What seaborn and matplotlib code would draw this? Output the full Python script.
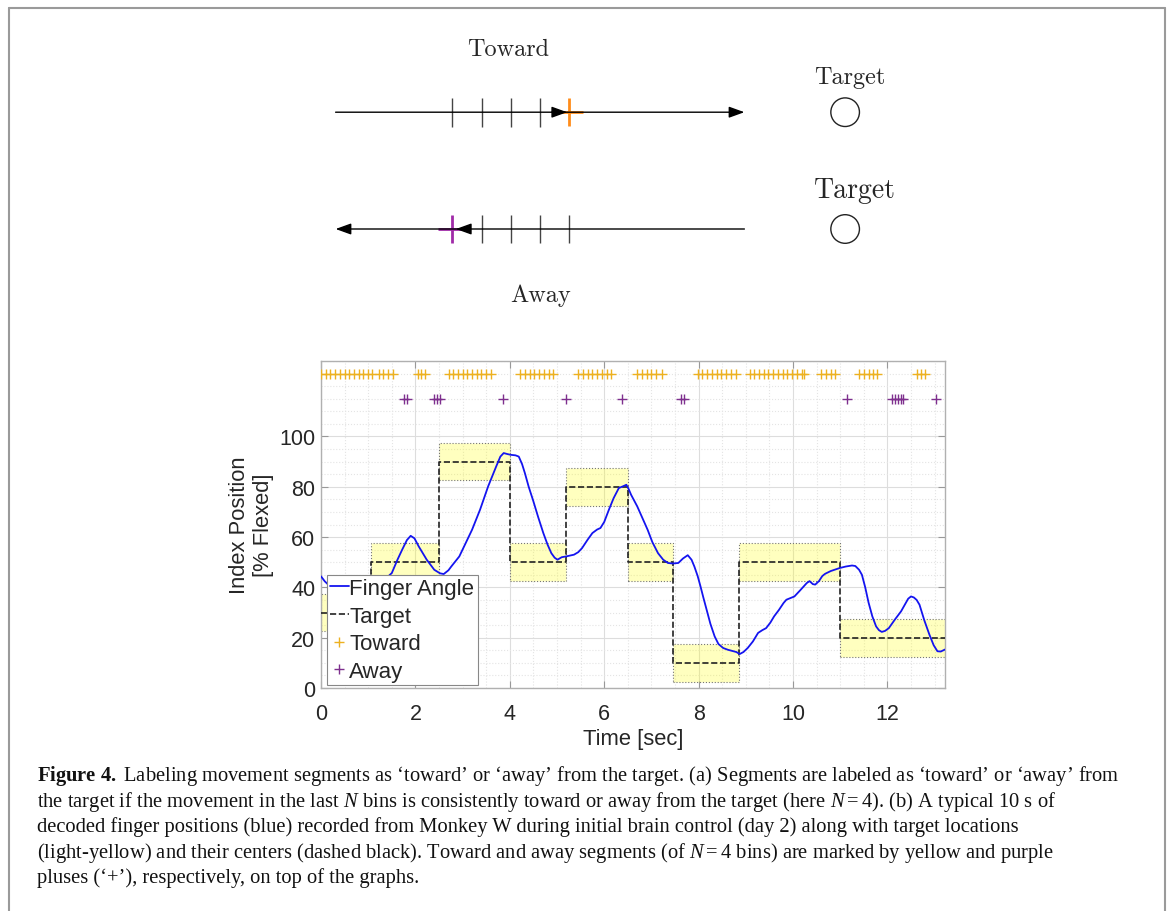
import matplotlib
matplotlib.use('Agg')
import matplotlib.pyplot as plt
from matplotlib.patches import Rectangle, Circle
from matplotlib.lines import Line2D
from matplotlib.ticker import MultipleLocator
import seaborn as sns

# (b) decoded finger angle, time [sec] vs index position [% flexed]
finger_t = [0.00, 0.08, 0.30, 0.60, 0.90, 1.20, 1.50, 1.62, 1.72, 1.82, 1.90, 1.98,
            2.07, 2.24, 2.40, 2.52, 2.60, 2.70, 2.76, 2.93, 3.05, 3.20, 3.37, 3.54,
            3.71, 3.80, 3.87, 3.95, 4.02, 4.12, 4.19, 4.26, 4.32, 4.40, 4.49, 4.60,
            4.71, 4.80, 4.88, 4.95, 5.01, 5.10, 5.19, 5.36, 5.45, 5.53, 5.65, 5.75,
            5.85, 5.92, 6.00, 6.10, 6.20, 6.31, 6.40, 6.47, 6.52, 6.57, 6.70, 6.80,
            6.92, 7.02, 7.14, 7.25, 7.35, 7.45, 7.57, 7.67, 7.77, 7.85, 7.91, 7.98,
            8.04, 8.10, 8.17, 8.25, 8.34, 8.42, 8.52, 8.62, 8.74, 8.80, 8.87, 8.95,
            9.04, 9.15, 9.26, 9.35, 9.43, 9.52, 9.60, 9.70, 9.80, 9.86, 9.95, 10.03,
            10.15, 10.29, 10.35, 10.42, 10.47, 10.55, 10.62, 10.68, 10.80, 10.99, 11.12, 11.25,
            11.32, 11.40, 11.46, 11.53, 11.60, 11.68, 11.76, 11.82, 11.88, 11.95, 12.03, 12.15,
            12.29, 12.38, 12.44, 12.50, 12.56, 12.62, 12.68, 12.78, 12.89, 12.98, 13.06, 13.13,
            13.22]
finger_v = [44.4, 42.4, 38.5, 36.5, 37.5, 40.5, 45.7, 51.0, 55.0, 58.8, 60.5, 59.5,
            56.3, 51.0, 47.0, 45.6, 45.3, 46.8, 48.3, 52.3, 57.0, 62.9, 70.9, 80.1,
            88.0, 92.0, 93.4, 93.0, 92.7, 92.5, 92.0, 89.0, 85.4, 80.0, 74.8, 68.0,
            61.6, 57.0, 53.6, 51.8, 51.0, 52.0, 52.3, 53.0, 54.0, 55.6, 59.0, 61.6,
            63.0, 63.6, 66.0, 70.9, 75.5, 79.5, 80.2, 80.8, 79.0, 76.8, 72.2, 68.0,
            62.9, 58.0, 53.6, 51.0, 49.7, 49.5, 49.7, 51.5, 52.8, 51.0, 48.3, 44.5,
            40.4, 36.0, 31.1, 25.5, 20.5, 17.5, 15.9, 15.2, 14.6, 14.3, 13.5, 14.3,
            15.9, 18.5, 21.9, 23.0, 23.8, 26.0, 28.5, 31.0, 33.8, 35.1, 35.8, 36.4,
            38.8, 41.7, 42.5, 41.3, 41.1, 42.5, 44.5, 45.4, 46.5, 47.7, 48.3, 48.7,
            48.5, 47.0, 45.0, 40.0, 34.0, 28.5, 24.5, 23.0, 22.3, 22.7, 23.8, 27.0,
            30.5, 33.5, 35.5, 36.4, 36.0, 35.0, 33.1, 27.0, 21.2, 17.0, 14.6, 14.5,
            15.3]

# target windows
target_start = [0.0, 1.05, 2.5, 4.0, 5.2, 6.5, 7.45, 8.85, 11.0]
target_end = [1.05, 2.5, 4.0, 5.2, 6.5, 7.45, 8.85, 11.0, 13.4]
target_center = [30, 50, 90, 50, 80, 50, 10, 50, 20]
target_halfwidth = 7.5

# bins labelled toward / away
toward_t = [0.00, 0.10, 0.20, 0.30, 0.40, 0.50, 0.60, 0.70, 0.80, 0.90, 1.00, 1.07,
            1.22, 1.32, 1.42, 1.52,
            2.05, 2.12, 2.20,
            2.72, 2.80, 2.90, 3.00, 3.10, 3.20, 3.30, 3.40, 3.50, 3.60,
            4.22, 4.32, 4.42, 4.52, 4.62, 4.72, 4.82, 4.92,
            5.45, 5.55, 5.65, 5.75, 5.85, 5.95, 6.05, 6.15,
            6.70, 6.80, 6.90, 7.00, 7.10, 7.22,
            7.98, 8.08, 8.18, 8.28, 8.38, 8.48, 8.58, 8.68, 8.80,
            9.08, 9.18, 9.28, 9.38, 9.48, 9.58, 9.68, 9.78, 9.88, 9.98, 10.08, 10.18, 10.24,
            10.60, 10.70, 10.80, 10.90,
            11.40, 11.50, 11.60, 11.70, 11.78,
            12.63, 12.72, 12.79]
away_t = [1.75, 1.82, 2.40, 2.46, 2.52, 3.86, 5.20, 6.38, 7.62, 7.70, 11.15,
          12.10, 12.16, 12.22, 12.28, 12.34, 13.02]
toward_row = 125
away_row = 115

# (a) schematic: bin positions along the movement line
line_len = 14
toward_bins = [4, 5, 6, 7]
toward_mark = 8
away_bins = [5, 6, 7, 8]
away_mark = 4
target_pos = 17.45

caption = [
    r"$\mathbf{Figure\ 4.}$ Labeling movement segments as ‘toward’ or ‘away’ from the target. (a) Segments are labeled as ‘toward’ or ‘away’ from",
    r"the target if the movement in the last $N$ bins is consistently toward or away from the target (here $N=4$). (b) A typical 10 s of",
    r"decoded finger positions (blue) recorded from Monkey W during initial brain control (day 2) along with target locations",
    r"(light-yellow) and their centers (dashed black). Toward and away segments (of $N=4$ bins) are marked by yellow and purple",
    r"pluses (‘+’), respectively, on top of the graphs.",
]

sns.set_style('whitegrid')
plt.rcParams['font.family'] = ['Liberation Sans', 'DejaVu Sans']
plt.rcParams['mathtext.fontset'] = 'custom'
plt.rcParams['mathtext.rm'] = 'Liberation Serif'
plt.rcParams['mathtext.it'] = 'Liberation Serif:italic'
plt.rcParams['mathtext.bf'] = 'Liberation Serif:bold'

W, H = 1171, 912
fig = plt.figure(figsize=(W / 100, H / 100), dpi=100)

# ---- (a) schematic
axd = fig.add_axes([306.4 / W, 1 - 332.2 / H, 759.2 / W, 321.2 / H])
axd.set_xlim(-1, 25)
axd.set_ylim(-3.5, 7.5)
axd.axis('off')

arr = dict(arrowstyle='-|>,head_length=0.47,head_width=0.17', color='black',
           lw=1.0, shrinkA=0, shrinkB=0, mutation_scale=20)
axd.annotate('', xy=(line_len, 4), xytext=(0, 4), arrowprops=arr)
axd.annotate('', xy=(toward_mark - 0.07, 4), xytext=(toward_mark - 0.6, 4), arrowprops=arr)
axd.annotate('', xy=(0, 0), xytext=(line_len, 0), arrowprops=arr)
axd.annotate('', xy=(away_mark + 0.12, 0), xytext=(away_mark + 0.6, 0), arrowprops=arr)
axd.vlines(toward_bins, 4 - 0.49, 4 + 0.49, color='#444444', lw=1.0)
axd.vlines(away_bins, -0.49, 0.49, color='#444444', lw=1.0)
axd.plot(toward_mark, 4, marker='+', ms=20, mew=2, color='#FF8C1A')
axd.plot(away_mark, 0, marker='+', ms=20, mew=2, color='#A02AA8')
axd.add_patch(Circle((target_pos, 4), 0.49, fill=False, lw=1.0, ec='#222222'))
axd.add_patch(Circle((target_pos, 0), 0.49, fill=False, lw=1.0, ec='#222222'))
axd.text(5.9, 6.17, 'Toward', family='cmr10', fontsize=17.5, ha='center', va='center')
axd.text(17.6, 5.22, 'Target', family='cmr10', fontsize=17.5, ha='center', va='center')
axd.text(17.8, 1.35, 'Target', family='cmr10', fontsize=20, ha='center', va='center')
axd.text(7.03, -2.25, 'Away', family='cmr10', fontsize=17.5, ha='center', va='center')

# ---- (b) finger trace
ax = fig.add_axes([321 / W, 1 - 689 / H, 624 / W, 327 / H])
for s, e, c in zip(target_start, target_end, target_center):
    ax.add_patch(Rectangle((s, c - target_halfwidth), e - s, 2 * target_halfwidth,
                           facecolor=(1, 1, 0, 0.25), edgecolor='#777777',
                           lw=0.8, ls=':', zorder=1))

step_x = target_start + [target_end[-1]]
step_y = target_center + [target_center[-1]]
sns.lineplot(x=step_x, y=step_y, drawstyle='steps-post', color='#222222',
             lw=1.2, ls='--', ax=ax, zorder=3)
sns.lineplot(x=finger_t, y=finger_v, color='#1414F0', lw=1.3, ax=ax, zorder=4)
ax.plot(toward_t, [toward_row] * len(toward_t), ls='none', marker='+', ms=7,
        mew=1.0, color='#EDB120', zorder=5)
ax.plot(away_t, [away_row] * len(away_t), ls='none', marker='+', ms=7,
        mew=1.0, color='#7E2F8E', zorder=5)

ax.set_xlim(0, 13.22)
ax.set_ylim(0, 130)
ax.set_xticks(range(0, 13, 2))
ax.set_yticks(range(0, 101, 20))
ax.xaxis.set_minor_locator(MultipleLocator(0.5))
ax.yaxis.set_minor_locator(MultipleLocator(5))
ax.set_axisbelow(True)
ax.grid(True, which='major', color='#dddddd', lw=0.8, ls='-')
ax.grid(True, which='minor', color='#e4e4e4', lw=0.8, ls=':')
ax.tick_params(which='major', direction='in', length=5, width=0.8, color='#999999',
               bottom=True, left=True, top=True, right=True,
               labelsize=15.5, labelcolor='#262626')
ax.tick_params(axis='x', which='major', pad=11)
ax.tick_params(axis='y', which='major', pad=4)
ax.tick_params(which='minor', length=0)
for sp in ax.spines.values():
    sp.set_color('#b0b0b0')
    sp.set_linewidth(1.0)
ax.set_xlabel('Time [sec]', fontsize=15.8, color='#262626', labelpad=3)
ax.set_ylabel('Index Position\n[% Flexed]', fontsize=15.8, color='#262626', labelpad=4)

handles = [Line2D([], [], color='#1414F0', lw=1.3),
           Line2D([], [], color='#222222', lw=1.2, ls='--'),
           Line2D([], [], ls='none', marker='+', ms=7, color='#EDB120'),
           Line2D([], [], ls='none', marker='+', ms=7, color='#7E2F8E')]
leg = ax.legend(handles, ['Finger Angle', 'Target', 'Toward', 'Away'],
                loc='lower left', bbox_to_anchor=(0.009, 0.008), borderaxespad=0,
                fontsize=16, frameon=True, fancybox=False, edgecolor='#888888',
                framealpha=1, handlelength=0.85, handletextpad=0.02,
                borderpad=0.15, labelspacing=0.3)
leg.get_frame().set_linewidth(0.8)
leg.set_zorder(10)

# ---- caption
for i, line in enumerate(caption):
    fig.text(37 / W, 1 - (776 + 25.6 * i) / H, line, fontsize=14.8,
             family='Liberation Serif', ha='left', va='center', color='#111111')

# page frame
fc = '#9a9a9a'
fig.add_artist(Line2D([8.5 / W, 8.5 / W], [0, 1 - 9 / H], color=fc, lw=1.5))
fig.add_artist(Line2D([8.5 / W, 1165 / W], [1 - 9 / H, 1 - 9 / H], color=fc, lw=1.5))
fig.add_artist(Line2D([1165 / W, 1165 / W], [0, 1 - 9 / H], color=fc, lw=1.5))

fig.savefig('out.png', dpi=100)
